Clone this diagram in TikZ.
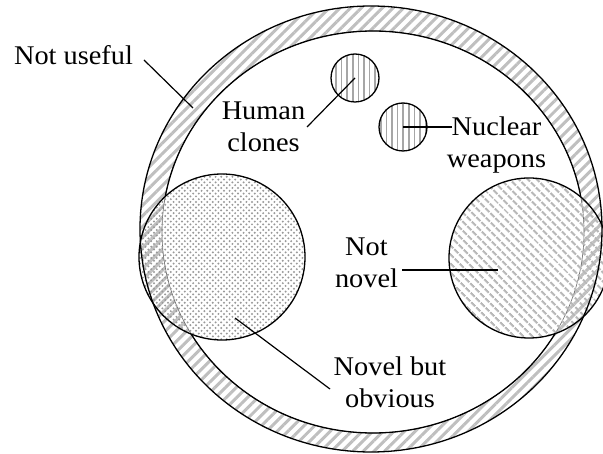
\documentclass[tikz,border=0pt]{standalone}
\usepackage{fontspec}
\setmainfont{Liberation Serif}[FakeStretch=1.05]
\usetikzlibrary{patterns.meta}
\begin{document}
\begin{tikzpicture}[x=1pt,y=-1pt,
  outline/.style={draw=black,line width=1.3pt},
  lbl/.style={font=\fontsize{27}{32}\selectfont,align=center,inner sep=0pt,anchor=base},
  conn/.style={draw=black,line width=1.2pt},
  ringfill/.style={pattern={Lines[angle=45,distance=7.5pt,line width=3pt]},pattern color=black!25},
  nnfill/.style={pattern={Lines[angle=-45,distance=6.5pt,line width=2.4pt]},pattern color=black!28},
  vfill/.style={pattern={Lines[angle=90,distance=5.6pt,line width=1.6pt]},pattern color=black!35},
  dotfill/.style={pattern={Dots[radius=1.1pt,distance=5.6pt]},pattern color=black!40},
  dotfillb/.style={pattern={Dots[radius=1.1pt,distance=5.6pt,xshift=2.8pt,yshift=2.8pt]},pattern color=black!40}]
\useasboundingbox (0,0) rectangle (603,454);
\begin{scope}
\clip (0,0) rectangle (603,454);
% ring between outer and inner ellipse
\path[even odd rule,ringfill] (371,229) ellipse [x radius=231,y radius=223] (373,232) ellipse [x radius=211,y radius=201];
% inner boundary: thin grey everywhere, black outside the two big circles
\draw[black!60,line width=0.6pt] (373,232) ellipse [x radius=211,y radius=201];
\begin{scope}[even odd rule]
\clip (0,0) rectangle (603,454) (222,257) circle [radius=83] (529,258) circle [radius=80];
\draw[outline] (373,232) ellipse [x radius=211,y radius=201];
\end{scope}
% big circles
\path[dotfill] (222,257) circle [radius=83];
\path[dotfillb] (222,257) circle [radius=83];
\node[circle,outline,minimum size=166pt,inner sep=0pt] (obv) at (222,257) {};
\path[nnfill] (529,258) circle [radius=80];
\node[circle,outline,minimum size=160pt,inner sep=0pt] (nov) at (529,258) {};
% outer boundary
\draw[outline] (371,229) ellipse [x radius=231,y radius=223];
\end{scope}
% small circles
\node[circle,outline,vfill,minimum size=48pt,inner sep=0pt] (hc) at (355,78) {};
\node[circle,outline,vfill,minimum size=48pt,inner sep=0pt] (nw) at (403,127) {};
% labels (base anchor = baseline of the last line)
\node[lbl] (notuseful) at (73.5,65) {Not useful};
\node[lbl] (human) at (263.5,152) {Human\\clones};
\node[lbl] (nuclear) at (496.5,168) {Nuclear\\weapons};
\node[lbl] (notnovel) at (366.5,288) {Not\\novel};
\node[lbl] (novelobv) at (390,408) {Novel but\\obvious};
% connector end points
\coordinate (nuA) at (144,60);
\coordinate (nuB) at (193,108);
\coordinate (hcA) at (307,127);
\coordinate (nwA) at (452,127);
\coordinate (nnA) at (402,270);
\coordinate (nnB) at (498,270);
\coordinate (noA) at (235,318);
\coordinate (noB) at (330,389);
% connectors
\draw[conn] (nuA) -- (nuB);
\draw[conn] (hc.center) -- (hcA);
\draw[conn] (nw.center) -- (nwA);
\draw[conn] (nnA) -- (nnB);
\draw[conn] (noA) -- (noB);
\end{tikzpicture}
\end{document}
